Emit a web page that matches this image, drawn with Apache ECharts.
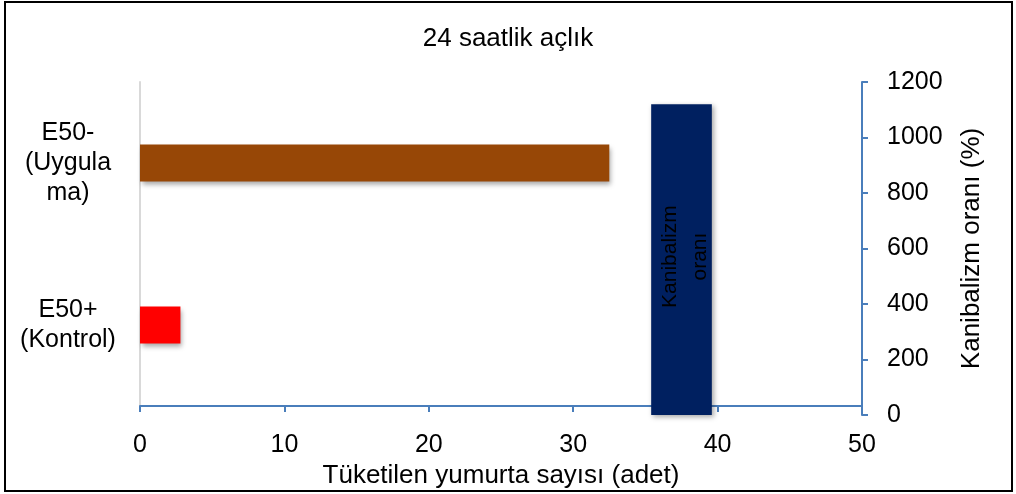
<!DOCTYPE html>
<html>
<head>
<meta charset="utf-8">
<script src="https://cdn.jsdelivr.net/npm/echarts@6/dist/echarts.min.js"></script>
<style>
html,body{margin:0;padding:0;background:#fff;}
#c{width:1016px;height:494px;}
</style>
</head>
<body>
<div id="c"></div>
<script>
// ---- data ----
var titleText = '24 saatlik açlık';
var categories = ['E50+\n(Kontrol)', 'E50-\n(Uygula\nma)'];
var eggCounts = [2.8, 32.5];
var barColors = ['#ff0000', '#974706'];
var xTicksMax = 50;
var rateAxisMax = 1200;
var cannibalismBar = [35.4, 39.6, 1120]; // [x start, x end, rate %]
var cannibalismLabel = 'Kanibalizm\noranı';
var xAxisName = 'Tüketilen yumurta sayısı (adet)';
var rightAxisName = 'Kanibalizm oranı (%)';

var FONT = 'Liberation Sans, Arial, sans-serif';
var blue = '#4a7ebb';

var chart = echarts.init(document.getElementById('c'));
var gridPos = {left: 140, right: 154, top: 82, bottom: 79, containLabel: false};

chart.setOption({
  animation: false,
  backgroundColor: '#fff',
  title: {
    text: titleText, left: 'center', top: 21,
    textStyle: {fontFamily: FONT, fontSize: 26, fontWeight: 'normal', color: '#000'}
  },
  graphic: [{
    type: 'rect', shape: {x: 5, y: 2, width: 1007, height: 489},
    style: {fill: 'none', stroke: '#000', lineWidth: 2}, silent: true, z: 100
  }],
  grid: [Object.assign({}, gridPos), Object.assign({}, gridPos)],
  xAxis: [{
    gridIndex: 0, type: 'value', min: 0, max: xTicksMax, interval: 10,
    name: xAxisName, nameLocation: 'middle', nameGap: 44,
    nameTextStyle: {fontFamily: FONT, fontSize: 26, color: '#000'},
    axisLine: {show: true, onZero: false, lineStyle: {color: blue, width: 2}},
    axisTick: {show: true, length: 6, lineStyle: {color: blue, width: 2}},
    axisLabel: {fontFamily: FONT, fontSize: 25, color: '#000', margin: 27},
    splitLine: {show: false}
  }, {
    gridIndex: 1, type: 'value', min: 0, max: xTicksMax, show: false
  }],
  yAxis: [{
    gridIndex: 0, type: 'category', data: categories, position: 'left',
    axisLine: {show: true, onZero: false, lineStyle: {color: '#d9d9d9', width: 2}},
    axisTick: {show: false},
    axisLabel: {fontFamily: FONT, fontSize: 25, color: '#000', align: 'center', margin: 72, lineHeight: 30}
  }, {
    gridIndex: 1, type: 'value', min: 0, max: rateAxisMax, interval: 200, position: 'right',
    name: rightAxisName, nameLocation: 'middle', nameGap: 97, nameRotate: 90,
    nameTextStyle: {fontFamily: FONT, fontSize: 26, color: '#000'},
    axisLine: {show: true, onZero: false, lineStyle: {color: blue, width: 2}},
    axisTick: {show: true, length: 6, lineStyle: {color: blue, width: 2}},
    axisLabel: {fontFamily: FONT, fontSize: 25, color: '#000', margin: 25,
      formatter: function (v) { return String(v); }},
    splitLine: {show: false}
  }],
  series: [{
    type: 'bar', xAxisIndex: 0, yAxisIndex: 0, barWidth: 37,
    data: eggCounts.map(function (v, i) {
      return {value: v, itemStyle: {color: barColors[i]}};
    }),
    itemStyle: {shadowBlur: 5, shadowOffsetX: 2, shadowOffsetY: 3, shadowColor: 'rgba(0,0,0,0.35)'}
  }, {
    type: 'custom', xAxisIndex: 1, yAxisIndex: 1,
    data: [cannibalismBar],
    renderItem: function (params, api) {
      var p0 = api.coord([api.value(0), 0]);
      var p1 = api.coord([api.value(1), api.value(2)]);
      var w = p1[0] - p0[0], h = p0[1] - p1[1];
      return {
        type: 'group',
        children: [{
          type: 'rect',
          shape: {x: p0[0], y: p1[1], width: w, height: h},
          style: {fill: '#002060', shadowBlur: 5, shadowOffsetX: 2, shadowOffsetY: 2, shadowColor: 'rgba(0,0,0,0.35)'}
        }, {
          type: 'text',
          x: p0[0] + w / 2 + 4, y: p1[1] + h / 2 - 3,
          rotation: Math.PI / 2,
          style: {
            text: cannibalismLabel, fill: '#000', align: 'center', verticalAlign: 'middle',
            fontFamily: FONT, fontSize: 21, lineHeight: 30
          }
        }]
      };
    }
  }]
});
</script>
</body>
</html>
